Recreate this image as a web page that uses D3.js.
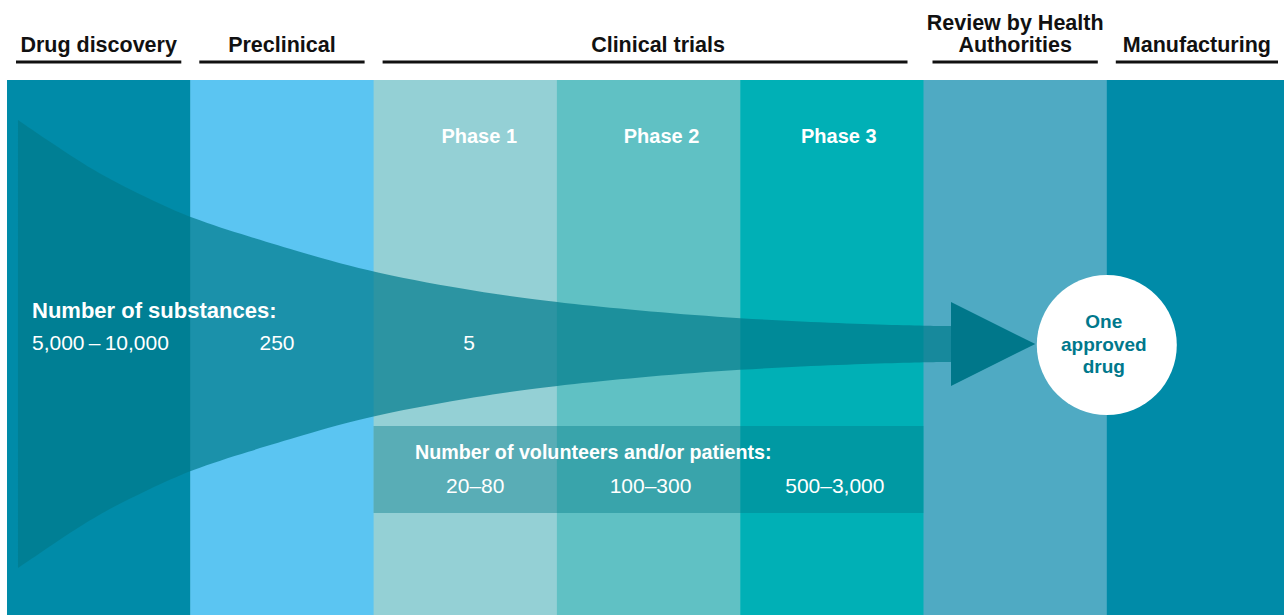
<!DOCTYPE html>
<html>
<head>
<meta charset="utf-8">
<script src="https://cdn.jsdelivr.net/npm/d3@7"></script>
<style>
  html, body { margin: 0; padding: 0; background: #ffffff; }
  svg { display: block; }
  text { font-family: "Liberation Sans", Arial, sans-serif; }
</style>
</head>
<body>
<svg id="chart" width="1284" height="615"></svg>
<script>
// ---------- data ----------
const stages = ["Drug discovery", "Preclinical", "Phase 1", "Phase 2", "Phase 3", "Review by Health Authorities", "Manufacturing"];
const headerLabels = [["Drug discovery"], ["Preclinical"], ["Clinical trials"], ["Review by Health", "Authorities"], ["Manufacturing"]];
const headerSpans = [[0, 0], [1, 1], [2, 4], [5, 5], [6, 6]];
const phaseLabels = ["Phase 1", "Phase 2", "Phase 3"];
const substanceTitle = "Number of substances:";
const substanceCounts = ["5,000\u2009\u2013\u200910,000", "250", "5"];
const volunteerTitle = "Number of volunteers and/or patients:";
const volunteerCounts = ["20\u201380", "100\u2013300", "500\u20133,000"];
const resultLines = ["One", "approved", "drug"];
// funnel outline: position along the stages (column units) and relative half-width
const funnelPos    = [0.06, 0.235, 0.507, 0.78, 1.0, 1.326, 1.598, 2.0, 2.58, 3.0, 4.0, 5.0, 5.15];
const funnelSpread = [1.0, 0.902, 0.754, 0.647, 0.5625, 0.478, 0.411, 0.317, 0.232, 0.183, 0.107, 0.080, 0.080];
const tipPos = [5.15, 5.61];
const tipSpread = 0.1875;
const resultPos = 6.0;

// ---------- styles ----------
const stageColors = ["#008ba8", "#5bc5f2", "#94d0d5", "#60c1c4", "#00b0b6", "#4faac3", "#008ba8"];
const funnelFill = "rgba(0,122,140,0.70)";
const tipFill = "#00778a";
const boxFill = "rgba(0,121,135,0.40)";
const resultColor = "#00788c";

const svg = d3.select("#chart");
const W = 1284, H = 615;
const colLeft = 7, colW = 183.3, colTop = 80;

const xBand = d3.scaleBand().domain(stages).range([colLeft, colLeft + colW * stages.length]).padding(0);
const xPos = d3.scaleLinear().domain([0, stages.length]).range([colLeft, colLeft + colW * stages.length]);
const yRel = d3.scaleLinear().domain([-1, 1]).range([568, 120]);

// columns
svg.append("g").selectAll("rect").data(stages).join("rect")
  .attr("x", d => xBand(d))
  .attr("y", colTop)
  .attr("width", xBand.bandwidth() + 0.5)
  .attr("height", H - colTop)
  .attr("fill", (d, i) => stageColors[i]);

// headers
const hg = svg.append("g");
headerLabels.forEach((lines, i) => {
  const [s, e] = headerSpans[i];
  const x0 = xBand(stages[s]) + 9;
  const x1 = Math.min(xBand(stages[e]) + xBand.bandwidth() - (e > s ? 16 : 9), W - 6);
  hg.append("rect").attr("x", x0).attr("y", 60.5).attr("width", x1 - x0).attr("height", 3).attr("fill", "#111");
  const cx = (x0 + x1) / 2 + (e > s ? 13 : 0);
  lines.forEach((ln, j) => {
    hg.append("text")
      .attr("x", cx)
      .attr("y", 52 - (lines.length - 1 - j) * 22)
      .attr("text-anchor", "middle")
      .attr("font-size", 21.5)
      .attr("font-weight", "bold")
      .attr("fill", "#111")
      .text(ln);
  });
});

// funnel
const funnelData = funnelPos.map((p, i) => ({ p, w: funnelSpread[i] }));
const area = d3.area()
  .x(d => xPos(d.p))
  .y0(d => yRel(-d.w))
  .y1(d => yRel(d.w))
  .curve(d3.curveBasis);
svg.append("path").datum(funnelData).attr("d", area).attr("fill", funnelFill);

// arrow tip
const tip = [[xPos(tipPos[0]), yRel(tipSpread)], [xPos(tipPos[1]), yRel(0)], [xPos(tipPos[0]), yRel(-tipSpread)]];
svg.append("path").attr("d", d3.line()(tip) + "Z").attr("fill", tipFill);

// volunteers box
const bx0 = xBand("Phase 1"), bx1 = xBand("Phase 3") + xBand.bandwidth();
svg.append("rect").attr("x", bx0).attr("y", 426).attr("width", bx1 - bx0).attr("height", 87).attr("fill", boxFill);

// phase labels
const phaseOffsets = [14, 13, 7];
svg.append("g").selectAll("text").data(phaseLabels).join("text")
  .attr("x", (d, i) => xBand(d) + xBand.bandwidth() / 2 + phaseOffsets[i])
  .attr("y", 143)
  .attr("text-anchor", "middle")
  .attr("font-size", 20)
  .attr("font-weight", "bold")
  .attr("fill", "#ffffff")
  .text(d => d);

// substances
svg.append("text").attr("x", 32).attr("y", 318)
  .attr("font-size", 22).attr("font-weight", "bold").attr("fill", "#fff").text(substanceTitle);
const subX = [32, 277, 469];
svg.append("g").selectAll("text").data(substanceCounts).join("text")
  .attr("x", (d, i) => subX[i])
  .attr("y", 350)
  .attr("text-anchor", (d, i) => i === 0 ? "start" : "middle")
  .attr("font-size", 21)
  .attr("fill", "#fff")
  .text(d => d);

// volunteers
svg.append("text").attr("x", 415).attr("y", 459)
  .attr("font-size", 19.7).attr("font-weight", "bold").attr("fill", "#fff").text(volunteerTitle);
const volOffsets = [10, 2, 3];
svg.append("g").selectAll("text").data(volunteerCounts).join("text")
  .attr("x", (d, i) => xBand(phaseLabels[i]) + xBand.bandwidth() / 2 + volOffsets[i])
  .attr("y", 493)
  .attr("text-anchor", "middle")
  .attr("font-size", 21)
  .attr("fill", "#fff")
  .text(d => d);

// result circle
const rcx = xPos(resultPos), rcy = yRel(0);
svg.append("circle").attr("cx", rcx).attr("cy", rcy + 1).attr("r", 70).attr("fill", "#ffffff");
svg.append("g").selectAll("text").data(resultLines).join("text")
  .attr("x", rcx - 3)
  .attr("y", (d, i) => 328 + i * 22.5)
  .attr("text-anchor", "middle")
  .attr("font-size", 19)
  .attr("font-weight", "bold")
  .attr("fill", resultColor)
  .text(d => d);
</script>
</body>
</html>
